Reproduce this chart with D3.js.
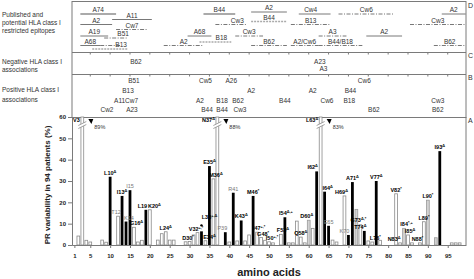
<!DOCTYPE html>
<html>
<head>
<meta charset="utf-8">
<script src="https://cdn.jsdelivr.net/npm/d3@7"></script>
<style>
  body { margin: 0; background: #fff; }
  svg { display: block; font-family: 'Liberation Sans', Arial, sans-serif; }
</style>
</head>
<body>
<svg id="chart" width="474" height="279"></svg>
<script>
// PR variability per residue: [residue, % of patients, group]
// group: assoc = black bar, open = white bar, shade = light grey bar
const bars = [
  [2, 4.2, 'open'], [3, 89, 'open'], [4, 2.2, 'open'], [5, 1.4, 'open'], [8, 2.3, 'open'], [9, 1.3, 'open'],
  [10, 32, 'assoc'], [12, 13.5, 'open'], [13, 23, 'assoc'], [14, 11, 'assoc'], [15, 25.7, 'assoc'],
  [16, 8.3, 'open'], [17, 1.4, 'open'], [18, 2.2, 'open'], [19, 16.5, 'assoc'], [20, 16.5, 'open'],
  [22, 2.3, 'open'], [23, 5.3, 'open'], [24, 6.2, 'open'], [25, 2.3, 'open'], [26, 2.3, 'open'],
  [29, 1.5, 'open'], [30, 1.6, 'open'], [31, 4.7, 'open'], [32, 5.8, 'open'], [33, 6.4, 'assoc'],
  [34, 2, 'open'], [35, 37, 'assoc'], [36, 31, 'open'], [37, 88, 'open'], [39, 6, 'assoc'],
  [40, 1.4, 'open'], [41, 24.5, 'assoc'], [42, 1.9, 'open'], [43, 11.5, 'assoc'], [44, 1.9, 'open'],
  [45, 4.7, 'open'], [46, 23, 'assoc'], [47, 6, 'open'], [48, 3.5, 'open'], [49, 2.2, 'open'],
  [50, 1.5, 'open'], [51, 1, 'open'], [53, 5, 'open'], [54, 13, 'assoc'], [55, 1, 'open'],
  [56, 1, 'open'], [57, 11.2, 'open'], [58, 3.7, 'open'], [59, 1, 'open'], [60, 11.6, 'shade'],
  [61, 7.8, 'open'], [62, 34.5, 'assoc'], [63, 83, 'open'], [64, 25, 'assoc'], [65, 9, 'assoc'],
  [66, 2.3, 'open'], [67, 1.4, 'open'], [69, 23, 'open'], [70, 4.7, 'assoc'], [71, 29.5, 'assoc'],
  [72, 16.7, 'shade'], [73, 9.5, 'open'], [74, 6.6, 'assoc'], [75, 1.9, 'open'], [76, 1.4, 'open'],
  [77, 30, 'assoc'], [78, 2.2, 'open'], [82, 24, 'open'], [83, 1, 'open'], [84, 7.8, 'shade'],
  [85, 4.7, 'open'], [86, 1, 'open'], [88, 1, 'open'], [89, 10.9, 'open'], [90, 21, 'shade'],
  [92, 3.4, 'shade'], [93, 44, 'assoc'], [96, 1, 'open'], [97, 1, 'open'], [98, 1, 'open']
]

// mutation labels: [residue, name, superscript, tone]
const mutations = [
  [3, 'V3', '', 'dark'], [10, 'L10', 'Δ', 'dark'], [12, 'T12', '', 'light'], [13, 'I13', 'Δ', 'dark'],
  [14, 'K14', '', 'light'], [15, 'I15', '', 'light'], [16, 'G16', 'Δ', 'dark'], [19, 'L19', '', 'dark'],
  [20, 'K20', 'Δ', 'dark'], [24, 'L24', 'Δ', 'dark'], [30, 'D30', '*', 'dark'], [32, 'V32', '+,*', 'dark'],
  [33, 'L33', '+,Δ', 'dark'], [34, 'E34', 'Δ', 'dark'], [35, 'E35', 'Δ', 'dark'], [36, 'M36', 'Δ', 'dark'],
  [37, 'N37', 'Δ', 'dark'], [39, 'P39', '', 'light'], [41, 'R41', '', 'light'], [43, 'K43', 'Δ', 'dark'],
  [46, 'M46', '*', 'dark'], [47, 'I47', '+,*', 'dark'], [48, 'G48', '*', 'dark'], [50, 'I50', '+,*', 'dark'],
  [53, 'F53', 'Δ', 'dark'], [54, 'I54', 'Δ,+', 'dark'], [58, 'Q58', 'Δ', 'dark'], [60, 'D60', 'Δ', 'dark'],
  [62, 'I62', 'Δ', 'dark'], [63, 'L63', 'Δ', 'dark'], [64, 'I64', 'Δ', 'dark'], [65, 'E65', '', 'light'],
  [69, 'H69', 'Δ', 'dark'], [70, 'K70', '', 'light'], [71, 'A71', 'Δ', 'dark'], [73, 'G73', 'Δ,*', 'dark'],
  [74, 'T74', 'Δ', 'dark'], [76, 'L76', '*', 'dark'], [77, 'V77', 'Δ', 'dark'], [82, 'V82', '*', 'dark'],
  [83, 'N83', 'Δ', 'dark'], [84, 'I84', '*,+', 'dark'], [85, 'I85', 'Δ', 'dark'], [88, 'N88', '*', 'dark'],
  [89, 'L89', '*', 'dark'], [90, 'L90', '*', 'dark'], [93, 'I93', 'Δ', 'dark']
]

// residue with the marker dot above its bar
const dotted = [33]

// published / potential epitopes: [HLA, first residue, last residue, evidence, tier]
const epitopes = [
  ['A74', 3, 11, 'thick', 1], ['A11', 11, 20, 'solid', 2], ['A2', 3, 10, 'solid', 4],
  ['Cw7', 12, 19, 'dashdot', 5], ['A19', 3, 9, 'solid', 6], ['B51', 9, 14, 'dashdot', 7],
  ['A68', 3, 7, 'solid', 9], ['', 8, 12, 'dashdot', 9], ['B13', 6, 14, 'dotted', 10],
  ['B44', 34, 41, 'thick', 1], ['A2', 46, 54, 'solid', 0], ['B44', 46, 54, 'dotted', 3],
  ['Cw3', 37, 44, 'dashdot', 4], ['A68', 30, 35, 'solid', 6], ['Cw3', 42, 48, 'dashdot', 6],
  ['B18', 33, 40, 'dotted', 8], ['A2', 24, 33, 'dashdot', 9], ['B62', 46, 54, 'dashdot', 9],
  ['Cw4', 58, 65, 'solid', 1], ['Cw6', 68, 81, 'dashdot', 1], ['A2', 94, 99, 'solid', 1],
  ['B13', 56, 65, 'dashdot', 4], ['Cw3', 86, 99, 'dashdot', 4], ['A3', 63, 69, 'dashdot', 6],
  ['A2', 75, 83, 'solid', 6], ['A2/Cw6', 56, 62, 'dashdot', 9], ['B44/B18', 63, 73, 'dashdot', 9],
  ['B62', 92, 99, 'dashdot', 9]
]

// negative HLA associations: [HLA, residue, row]
const negativeAssoc = [['B62', 16.5, 0], ['A23', 62.8, 0], ['A3', 63.7, 1]]

// positive HLA associations: [HLA, residue, row]
const positiveAssoc = [
  ['B51', 16, 0], ['Cw5', 34, 0], ['A26', 40.5, 0], ['Cw6', 74, 0],
  ['B13', 14.5, 1], ['A2', 45.5, 1], ['A2', 61, 1], ['B44', 70.5, 1],
  ['A11', 12.4, 2], ['Cw7', 15.4, 2], ['A2', 32.6, 2], ['B18', 38.2, 2], ['B62', 42.2, 2],
  ['B44', 54, 2], ['Cw6', 64.6, 2], ['B18', 70.2, 2], ['Cw3', 92.5, 2],
  ['Cw2', 9.2, 3], ['A23', 15.5, 3], ['B44', 34.4, 3], ['B44', 38.2, 3], ['Cw3', 42.7, 3],
  ['B62', 76.4, 3], ['B62', 92.5, 3]
]

const xTicks = [1, 5, 10, 15, 20, 25, 30, 35, 40, 45, 50, 55, 60, 65, 70, 75, 80, 85, 90, 95]
const yTicks = [0, 10, 20, 30, 40, 50, 60]

// ---- layout ----
const width = 474
const height = 279
const left = 72, right = 466
const panelD = [1, 52], panelC = [52, 74], panelB = [74, 117], panelA = [117, 245]
const tierY = [12, 14, 19.5, 21.5, 24.5, 29.5, 36, 38, 42, 45.5, 49]
const assocRowY = [82.5, 92.5, 102.5, 112]
const negRowY = [63.5, 70.5]
const frameColor = '#7a7a7a'
const textColor = '#333'

// label nudges in px [dx, dy]
const labelNudge = {
  12: [-2, 0], 14: [3, 0], 16: [2.5, 0], 19: [-3.5, 0], 20: [4.5, 0],
  30: [-1.5, 0], 32: [-1.5, 0], 33: [8, -10], 34: [4, 0], 36: [2.5, 0], 39: [-3, 0],
  47: [2, 0], 48: [2, 0], 50: [3, 0], 53: [2, 0], 54: [1, 0], 60: [-2, 0], 62: [-4, 0],
  64: [3, 0], 69: [-3, 0], 70: [-4, 0], 73: [-2, -1], 74: [-4, 0], 76: [3, 0], 83: [-6, 0],
  84: [2.5, 0], 85: [2, 0], 88: [-2.5, 0]
}
const epitopeLabelShift = { 'B51-9': 7, 'B13-6': 11, 'Cw3-37': 6, 'B18-33': 6, 'Cw4-58': -4 }

const svg = d3.select('#chart')
svg.append('rect').attr('width', width).attr('height', height).attr('fill', '#fff')

const x = d3.scaleLinear([0.4, 99.6], [left, right])
const y = d3.scaleLinear([0, 60], [panelA[1], panelA[0]])
const barW = (x(1) - x(0)) * 0.7

// ---- frame ----
const frame = svg.append('g').attr('stroke', frameColor).attr('stroke-width', 1).attr('fill', 'none')
frame.append('rect')
  .attr('x', left).attr('y', panelD[0] + 0.5)
  .attr('width', right - left).attr('height', panelA[0] - panelD[0])
;[panelC[0], panelB[0]].forEach(yy => {
  frame.append('line').attr('x1', left).attr('x2', right).attr('y1', yy + 0.5).attr('y2', yy + 0.5)
  frame.selectAll(null).data(xTicks.slice(1)).join('line')
    .attr('x1', d => x(d)).attr('x2', d => x(d))
    .attr('y1', yy + 0.5).attr('y2', yy + 2.5)
})
frame.append('line').attr('x1', right).attr('x2', right).attr('y1', panelA[0]).attr('y2', panelA[1])

// ---- left descriptions ----
const desc = svg.append('g').attr('fill', textColor).attr('font-size', 6.5)
const descLines = [
  ['Published and', 17], ['potential HLA class I', 25], ['restricted epitopes', 33],
  ['Negative HLA class I', 63.5], ['associations', 71.5],
  ['Positive HLA class I', 92], ['associations', 101.5]
]
desc.selectAll('text').data(descLines).join('text')
  .attr('x', 2).attr('y', d => d[1]).text(d => d[0])

// panel letters
svg.append('g').attr('fill', textColor).attr('font-size', 7)
  .selectAll('text').data([['D', 8], ['C', 57.5], ['B', 80], ['A', 122.5]]).join('text')
  .attr('x', 468).attr('y', d => d[1]).text(d => d[0])

// ---- panel D: epitopes ----
const lineStyle = {
  thick: { stroke: '#aaa', w: 2, dash: null },
  solid: { stroke: '#555', w: 0.8, dash: null },
  dashdot: { stroke: '#555', w: 0.8, dash: '4,1.5,1,1.5' },
  dotted: { stroke: '#aaa', w: 1.3, dash: '2,1' }
}
const epi = svg.append('g').attr('id', 'epitopes')
epi.selectAll('line').data(epitopes).join('line')
  .attr('x1', d => x(d[1] - 0.5)).attr('x2', d => x(d[2] + 0.5))
  .attr('y1', d => tierY[d[4]]).attr('y2', d => tierY[d[4]])
  .attr('stroke', d => lineStyle[d[3]].stroke)
  .attr('stroke-width', d => lineStyle[d[3]].w)
  .attr('stroke-dasharray', d => lineStyle[d[3]].dash)
epi.selectAll('text').data(epitopes.filter(d => d[0])).join('text')
  .attr('x', d => (x(d[1] - 0.5) + x(d[2] + 0.5)) / 2 + (epitopeLabelShift[d[0] + '-' + d[1]] || 0))
  .attr('y', d => tierY[d[4]] - 2)
  .attr('text-anchor', 'middle').attr('font-size', 6.5).attr('fill', textColor)
  .text(d => d[0])

// ---- panels C and B: associations ----
svg.append('g').selectAll('text').data(negativeAssoc).join('text')
  .attr('x', d => x(d[1])).attr('y', d => negRowY[d[2]])
  .attr('text-anchor', 'middle').attr('font-size', 6.5).attr('fill', textColor)
  .text(d => d[0])
svg.append('g').selectAll('text').data(positiveAssoc).join('text')
  .attr('x', d => x(d[1])).attr('y', d => assocRowY[d[2]])
  .attr('text-anchor', 'middle').attr('font-size', 6.5).attr('fill', textColor)
  .text(d => d[0])

// ---- panel A: bars ----
const viz = svg.append('g').attr('id', 'bars')
const fills = { assoc: '#000', open: '#fff', shade: '#d2d2d2' }
const strokes = { assoc: '#000', open: '#8a8a8a', shade: '#9a9a9a' }
viz.selectAll('rect').data(bars).join('rect')
  .attr('x', d => x(d[0]) - barW / 2)
  .attr('y', d => y(Math.min(d[1], 60)))
  .attr('width', barW)
  .attr('height', d => y(0) - y(Math.min(d[1], 60)))
  .attr('fill', d => fills[d[2]])
  .attr('stroke', d => strokes[d[2]])
  .attr('stroke-width', d => d[2] === 'assoc' ? 0 : 0.8)

// broken bars (> 60 %)
const broken = bars.filter(d => d[1] > 60)
const brk = viz.append('g')
broken.forEach(d => {
  const cx = x(d[0])
  const by = y(60) + 8
  brk.append('line').attr('x1', cx - 4).attr('x2', cx + 4).attr('y1', by + 2).attr('y2', by - 2)
    .attr('stroke', '#fff').attr('stroke-width', 3)
  ;[-1.5, 1.5].forEach(o => {
    brk.append('line').attr('x1', cx - 4).attr('x2', cx + 4)
      .attr('y1', by + 2 + o).attr('y2', by - 2 + o)
      .attr('stroke', '#8a8a8a').attr('stroke-width', 0.8)
  })
  brk.append('path')
    .attr('d', `M${cx + 6},${y(60) + 2}L${cx + 11},${y(60) + 2}L${cx + 9},${y(60) + 7}Z`)
    .attr('fill', '#000')
  brk.append('text').attr('x', cx + 12).attr('y', y(60) + 11.5)
    .attr('font-size', 5.5).attr('fill', textColor).text(d[1] + '%')
})

// dot marker
viz.selectAll('circle').data(bars.filter(d => dotted.includes(d[0]))).join('circle')
  .attr('cx', d => x(d[0])).attr('cy', d => y(d[1]) - 6).attr('r', 1.2).attr('fill', '#000')

// mutation labels
const valueOf = new Map(bars.map(d => [d[0], d[1]]))
const lab = viz.append('g').attr('font-size', 5.5).attr('font-weight', 'bold')
mutations.forEach(m => {
  const v = valueOf.get(m[0])
  const isBroken = v > 60
  const nudge = labelNudge[m[0]] || [0, 0]
  const t = lab.append('text')
    .attr('x', isBroken ? x(m[0]) - 2.5 : x(m[0]) + nudge[0])
    .attr('y', isBroken ? y(60) + 5 : y(v) - 2 + nudge[1])
    .attr('text-anchor', isBroken ? 'end' : 'middle')
    .attr('fill', m[3] === 'light' ? '#777' : '#000')
    .attr('font-weight', m[3] === 'light' ? 'normal' : 'bold')
  t.append('tspan').text(m[1])
  if (m[2]) t.append('tspan').attr('dy', -2).attr('font-size', 3.8).text(m[2])
})

// ---- axes ----
const yAxis = svg.append('g')
  .attr('transform', `translate(${left},0)`)
  .call(d3.axisLeft(y).tickValues(yTicks).tickSize(4).tickPadding(2))
yAxis.select('.domain').attr('stroke', frameColor)
yAxis.selectAll('.tick line').attr('stroke', frameColor)
yAxis.selectAll('text').attr('font-size', 6).attr('font-weight', 'bold').attr('fill', '#222')
  .attr('font-family', 'Liberation Sans, Arial, sans-serif')

const xAxis = svg.append('g')
  .attr('transform', `translate(0,${panelA[1]})`)
  .call(d3.axisBottom(x).tickValues(xTicks).tickSize(3).tickPadding(6).tickSizeOuter(0))
xAxis.select('.domain').attr('stroke', frameColor)
xAxis.selectAll('.tick line').attr('stroke', frameColor)
xAxis.selectAll('text').attr('font-size', 6).attr('font-weight', 'bold').attr('fill', '#222')
  .attr('font-family', 'Liberation Sans, Arial, sans-serif')

svg.append('text')
  .attr('transform', `translate(50,${(panelA[0] + panelA[1]) / 2 + 4}) rotate(-90)`)
  .attr('text-anchor', 'middle').attr('font-size', 8).attr('font-weight', 'bold').attr('fill', '#222')
  .text('PR variability in 94 patients (%)')

svg.append('text')
  .attr('x', 269).attr('y', 276)
  .attr('text-anchor', 'middle').attr('font-size', 11).attr('font-weight', 'bold').attr('fill', '#222')
  .text('amino acids')
</script>
</body>
</html>
